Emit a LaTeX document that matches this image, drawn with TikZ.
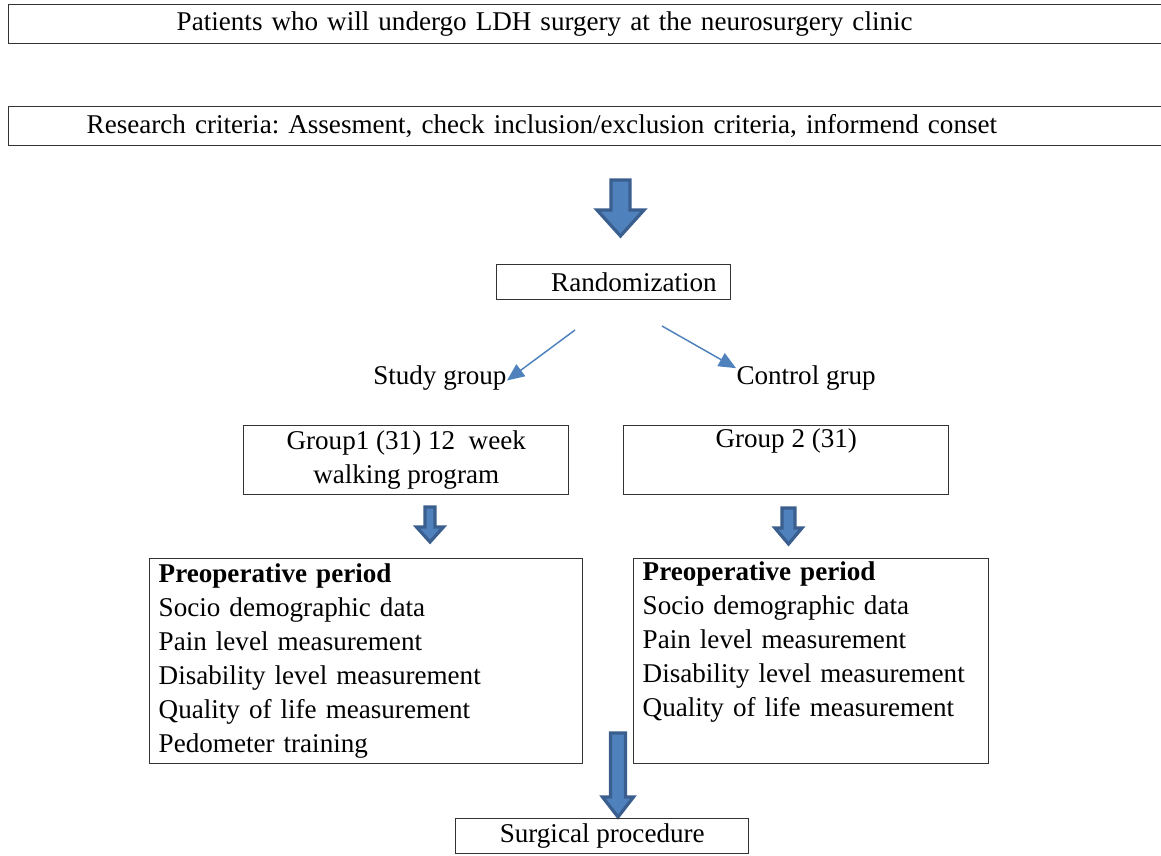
\documentclass[tikz,border=0pt]{standalone}
\usepackage{fontspec}
\setmainfont{Liberation Serif}
\usepackage{tikz}
\usetikzlibrary{arrows.meta}

\definecolor{arrowfill}{HTML}{4F81BD}
\definecolor{arrowline}{HTML}{3A5F8E}
\def\u{0.406pt}
\frenchspacing
\tikzset{
  box/.style={draw=black!80, line width=0.6pt, inner ysep=0pt, font=\fontsize{11}{13.8}\selectfont},
  label/.style={inner sep=0pt, font=\fontsize{11}{13.8}\selectfont},
  thinarrow/.style={draw=arrowfill, line width=0.6pt, -{Triangle[length=7pt,width=6pt]}},
  blockarrow/.style={fill=arrowfill, draw=arrowline, line width=1.3pt, line join=miter}
}
% center x, top, head top, tip, half shaft, half head
\newcommand{\blockarr}[6]{%
  \draw[blockarrow] (#1-#5,#2) -- (#1+#5,#2) -- (#1+#5,#3) -- (#1+#6,#3)
    -- (#1,#4) -- (#1-#6,#3) -- (#1-#5,#3) -- cycle;}

\begin{document}
\begin{tikzpicture}[x=0.406pt,y=-0.406pt]
\useasboundingbox (0,0) rectangle (1161,855);

% top boxes
\node[box, anchor=north west, minimum height=39*\u, inner xsep=168*\u, text width=831*\u, align=left]
  (patients) at (8,4) {Patients who will undergo LDH surgery at the neurosurgery clinic};
\node[box, anchor=north west, minimum height=39*\u, inner xsep=78*\u, text width=1011*\u, align=left]
  (criteria) at (8,106) {Research criteria: Assesment, check inclusion/exclusion criteria, informend conset};

\blockarr{620.5}{180}{210}{236}{9.5}{23.5}

\node[box, anchor=north west, minimum height=35*\u, inner xsep=14*\u, text width=206*\u, align=right]
  (random) at (496,264) {Randomization};

% groups
\coordinate (rl) at (575,330);
\coordinate (rr) at (662,326);
\node[label, anchor=east] (study) at (507,378) {Study group};
\node[label, anchor=west] (control) at (736,378) {Control grup};
\draw[thinarrow] (rl) -- ([yshift=-1pt]study.east);
\draw[thinarrow] (rr) -- ([yshift=4pt]control.west);

\node[box, anchor=north west, minimum width=325*\u, minimum height=69*\u, align=center]
  (group1) at (243,425) {Group1 (31) 12\ \ week\\walking program};
\node[box, anchor=north west, minimum width=325*\u, minimum height=69*\u, align=center]
  (group2) at (623,425) {Group 2 (31)\\\strut};

\blockarr{430}{507}{527}{542}{5}{13.5}
\blockarr{788.5}{508}{528}{544}{6.5}{13.5}

% preoperative period
\node[box, anchor=north west, minimum height=205*\u, inner xsep=9*\u, text width=415*\u, align=left]
  (pre1) at (149,558) {\textbf{Preoperative period}\\Socio demographic data\\Pain level measurement\\
  Disability level measurement\\Quality of life measurement\\Pedometer training};
\node[box, anchor=north west, minimum height=205*\u, inner xsep=9*\u, text width=337*\u, align=left]
  (pre2) at (633,558) {\textbf{Preoperative period}\\Socio demographic data\\Pain level measurement\\
  Disability level measurement\\Quality of life measurement\\\strut};

\blockarr{618}{733}{797}{817}{7.5}{15.5}

\node[box, anchor=north west, minimum width=293*\u, minimum height=35*\u]
  (surgery) at (455,818) {Surgical procedure};
\end{tikzpicture}
\end{document}
